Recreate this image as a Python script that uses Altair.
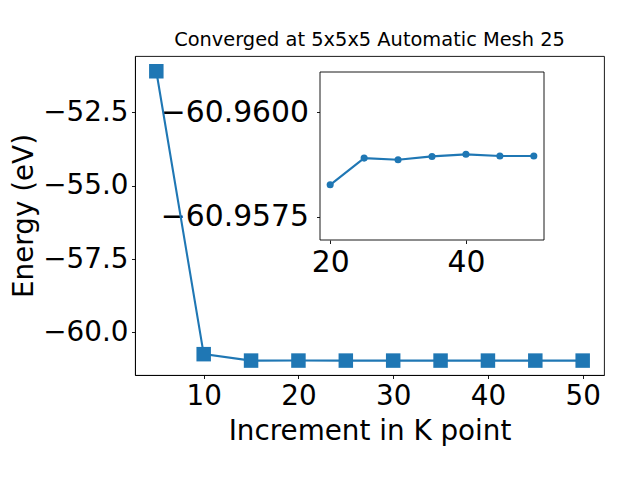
import altair as alt
import pandas as pd

BLUE = "#1f77b4"
FONT = "DejaVu Sans"

# main series
k_points = [5, 10, 15, 20, 25, 30, 35, 40, 45, 50]
energy = [-51.10, -60.74, -60.9588, -60.95826, -60.95890, -60.95886,
          -60.95894, -60.95899, -60.95895, -60.95895]

# inset series
k_inset = [20, 25, 30, 35, 40, 45, 50]
energy_inset = [-60.95826, -60.95890, -60.95886, -60.95894,
                -60.95899, -60.95895, -60.95895]

main_x_ticks = [10, 20, 30, 40, 50]
main_y_ticks = [-60.0, -57.5, -55.0, -52.5]
inset_x_ticks = [20, 40]
inset_y_ticks = [-60.9600, -60.9575]

main_x_domain = [2.75, 52.25]
main_y_domain = [-61.45, -50.58]
inset_x_domain = [18.5, 51.5]
inset_y_domain = [-60.96096, -60.95694]

W, H = 469, 319
inset_x_range = [185, 409]
inset_y_range = [16, 184]

df_main = pd.DataFrame({"k": k_points, "e": energy})
df_inset = pd.DataFrame({"k": k_inset, "e": energy_inset})
df_frame = pd.DataFrame({"x0": [inset_x_domain[0]], "x1": [inset_x_domain[1]],
                         "y0": [inset_y_domain[0]], "y1": [inset_y_domain[1]]})

mx = alt.X("k:Q", scale=alt.Scale(domain=main_x_domain, nice=False, zero=False),
           axis=alt.Axis(values=main_x_ticks, title="Increment in K point", format="d"))
my = alt.Y("e:Q", scale=alt.Scale(domain=main_y_domain, nice=False, zero=False),
           axis=alt.Axis(values=main_y_ticks, title="Energy (eV)", format=".1f"))

base = alt.Chart(df_main)
main = alt.layer(
    base.mark_line(color=BLUE, strokeWidth=2.1).encode(x=mx, y=my),
    base.mark_square(color=BLUE, size=210, opacity=1).encode(x=mx, y=my),
)

isx = alt.Scale(domain=inset_x_domain, range=inset_x_range, nice=False, zero=False)
isy = alt.Scale(domain=inset_y_domain, range=inset_y_range, nice=False, zero=False)
ix_axis = alt.Axis(values=inset_x_ticks, title=None, orient="bottom", offset=-(H - inset_y_range[1]),
                   format="d", domain=False, labelFontSize=29.8)
iy_axis = alt.Axis(values=inset_y_ticks, title=None, orient="left", offset=-inset_x_range[0],
                   format=".4f", domain=False, labelFontSize=29.8, labelPadding=8)

frame = alt.Chart(df_frame).mark_rect(filled=False, stroke="black", strokeWidth=0.9, fill="white").encode(
    x=alt.X("x0:Q", scale=isx, axis=ix_axis), x2="x1:Q",
    y=alt.Y("y0:Q", scale=isy, axis=iy_axis), y2="y1:Q",
)
ibase = alt.Chart(df_inset)
ix = alt.X("k:Q", scale=isx, axis=ix_axis)
iy = alt.Y("e:Q", scale=isy, axis=iy_axis)
inset = alt.layer(
    frame,
    ibase.mark_line(color=BLUE, strokeWidth=2.1).encode(x=ix, y=iy),
    ibase.mark_circle(color=BLUE, size=50, opacity=1).encode(x=ix, y=iy),
)

chart = alt.layer(main, inset).resolve_scale(x="independent", y="independent").properties(
    width=W, height=H,
    autosize=alt.AutoSizeParams(type="none"),
    padding={"left": 127, "top": 48, "right": 20, "bottom": 100},
    title=alt.TitleParams("Converged at 5x5x5 Automatic Mesh 25", fontSize=19.4, font=FONT,
                          fontWeight="normal", color="black", anchor="middle",
                          baseline="alphabetic", offset=-9),
).configure_view(stroke="black", strokeWidth=0.9).configure_axis(
    grid=False, domainColor="black", domainWidth=0.9, tickColor="black", tickWidth=0.9,
    tickSize=3.5, labelPadding=3.5, labelColor="black", labelFont=FONT, labelFontSize=27.8,
    titleFont=FONT, titleFontSize=27.8, titleFontWeight="normal", titleColor="black",
    labelOverlap=False, labelFlush=False,
).configure_axisX(titlePadding=8).configure_axisY(titlePadding=4)

chart.save("out.html", embed_options={"renderer": "svg", "actions": False})
